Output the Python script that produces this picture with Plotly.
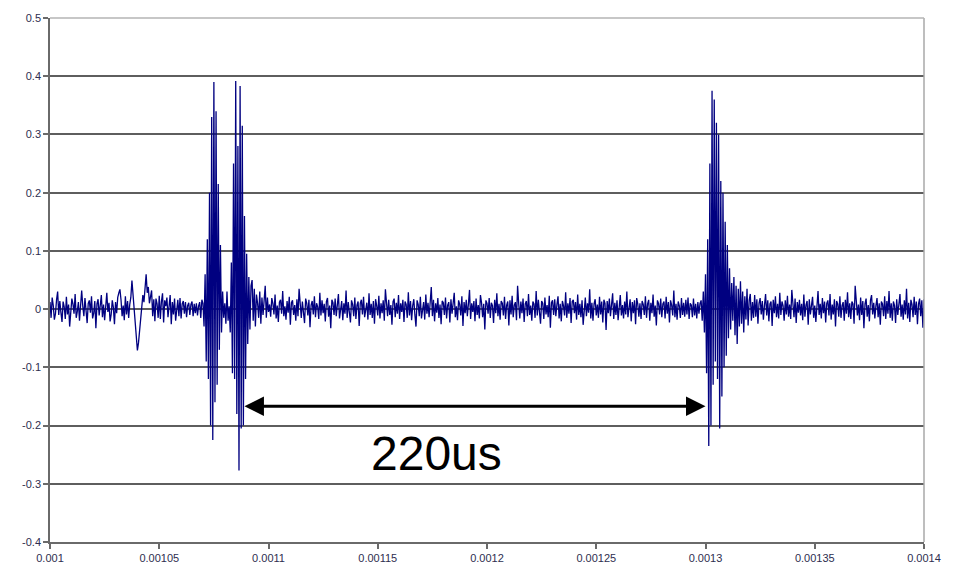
import plotly.graph_objects as go

# Sampled waveform, 0.5 us per sample, starting at t = 1.000 ms (values in mV)
t_start = 0.001
sample_step = 0.5e-6

lead_in_mv = [
    12, -15, 20, 6, -18, -8, 16, 30, -10, 14, -6, -22, 13, 4, -17, 21, -9, 8, -30, -12,
    18, 9, -8, 26, -15, -4, 12, -20, 7, 32, 5, -12, 19, -9, -24, 10, 15, -6, 22, -16,
    -7, 14, -33, 9, 17, -11, 5, 24, -14, 8, -19, 12, 28, -5, 11, -21, -9, 15, 3, -26,
    12, -7, 20, 28, 34, 16, -12, 6, -19, 22, -9, 14, -15, 8, 20, 49, 25, -8, -28, -45,
    -71, -58, -36, -18, 8, 24, 12, 36, 60, 28, 38, 10, 20, 32, -12, 17, -21, 18, 9, -15,
    23, -17, 13, 27, -23, 15, 5, 20, -14, 10, 24, -26, 12, -9, 18, -20, 7, 16, -12, 19,
    -16, 9, 14, -8, 12, -14, 6, 11, -10, 8, 13, -12, 9, -7, 10, -11, 5, 12, -15, 16,
]

burst_1_mv = [
    10, -30, 60, -90, 120, -120, 200, -200, 330, -225,
    390, -160, 340, -130, 215, -70, 110, -40, 30, -15,
]

gap_mv = [10, -25, 30, -20, 5]

burst_2_mv = [
    -40, 80, -110, 250, -120, 392, -180, 280, -277, 383,
    -205, 315, -200, 160, -120, 95, -60, 55, -35, 40,
]

ring_2_mv = [50, -20, 35, -30, 25, 10, -15, 30, -25, 20, -10, 15, 40, -15, 20, -5]

middle_mv = [
    8, -13, 19, 10, -9, 25, -16, 6, -22, 12, 16, -8, 31, -12, 5, -18, 14, -6, 21, -27,
    11, 15, -10, 7, -20, 17, -12, 35, 9, -15, 13, -6, -24, 18, 10, -11, 16, -31, 7, 14,
    -9, 22, -14, 10, 4, -17, 28, -11, 15, -7, 9, -21, 13, 19, -13, 6, -33, 16, 11, -10,
    18, -12, 8, 26, -16, 6, 14, -19, 10, -8, 32, -15, 12, -5, -23, 15, 8, -12, 20, -17,
    7, 13, -29, 10, 16, -9, 21, -14, 5, 11, -18, 27, -10, 9, -15, 14, -25, 17, 6, -11,
    23, -16, 10, -7, 15, -20, 34, 8, -12, 16, -10, 7, -27, 13, 18, -14, 11, -8, 24, -17,
    10, -5, 16, -22, 13, 8, -15, 29, -11, 14, -19, 6, 17, -10, -30, 15, 8, -12, 21, -16,
    5, 12, -18, 25, -8, 11, -14, 7, 38, -12, 16, -21, 10, -6, 19, -15, 8, -26, 14, 11,
    -10, 20, -16, 7, 12, -23, 17, -8, 10, 28, -14, 5, -19, 15, 8, -11, 22, -29, 12, -7,
    16, -12, 9, 33, -17, 10, -5, 14, -21, 18, -10, 7, -16, 24, 11, -14, 9, -35, 15, 10,
    -8, 19, -15, 11, 6, -24, 16, -7, 27, -12, 9, -18, 14, 10, -11, 21, -17, 7, 13, -28,
    15, -9, 23, -14, 7, 12, -19, 40, 10, -16, 13, -7, 18, -22, 9, 14, -12, 26, -10, 6,
    -20, 13, 9, -15, 31, -11, 16, -6, -25, 14, 10, -17, 20, -9, 7, -14, 23, -32, 11, 15,
    -10, 17, -12, 8, 22, -16, 9, -21, 14, 6, -11, 29, -15, 10, -8, 19, -24, 13, 16, -7,
    12, -18, 25, -10, 9, -14, 15, -27, 7, 20, -12, 10, -6, 34, -16, 11, -20, 9, 17, -11,
    8, -15, 21, -9, 13, -23, 16, 10, -36, 14, -7, 18, -12, 9, 27, -17, 11, -10, 15, -19,
    10, 24, -11, 7, -16, 13, -9, 30, -14, 6, 17, -21, 12, -7, 15, -26, 19, 9, -13, 10,
    -17, 14, 8, -10, 22, -15, 9, 16, -20, 11, -7, 25, -13, 6, -28, 15, 10, -9, 18, -14,
    9, 13, -16, 21, -8, 12, -23, 15, 7, -11, 32, -14, 9, -18, 13, 6, -15, 19, -10, 11,
    -13, 16, -9, 20, -17, 10, 7, -14, 18, -11, 9, -16, 12, -8, 10,
]

burst_3_mv = [
    15, -20, 30, -40, 60, -110, 120, -235, 250, -200,
    375, -130, 360, -90, 320, -120, 300, -205, 220, -150,
    200, -100, 150, -80, 110, -50, 70, -35, 45, -20,
]

tail_mv = [
    55, -45, 40, -60, 35, -30, 48, -25, 30, -40, 22, -18, 35, -28, 15, 26, -20, 12, -15, 24,
    -13, 17, -25, 10, 19, -9, 14, -18, 7, 26, -11, 15, -21, 9, 13, -29, 16, -7, 22, -14,
    9, -16, 28, -10, 13, 6, -20, 15, -9, 23, -13, 8, -17, 33, 10, -14, 18, -24, 12, -6,
    16, -11, 9, -19, 25, -13, 7, 14, -27, 17, -9, 11, 21, -15, 6, -22, 13, 31, -10, 9,
    -16, 19, -7, 13, -23, 10, 15, -11, 26, -18, 8, -9, 17, -30, 14, 9, -13, 22, -15, 6,
    12, -20, 16, -8, 29, -14, 10, -17, 13, 9, -25, 40, 15, -11, 8, -19, 20, -10, 14, -33,
    9, 18, -13, 7, -21, 15, 24, -9, 11, -16, 6, 19, -14, 10, -27, 13, 9, -12, 22, -17,
    14, -8, 31, -15, 10, -20, 13, 6, -24, 17, -10, 9, 26, -13, 8, -18, 15, -9, 35, -16,
    11, -22, 16, 8, -14, 21, -10, 13, -26, 9, 18, -12, 15, -32, 17,
]

x_tick_vals = [0.001, 0.00105, 0.0011, 0.00115, 0.0012, 0.00125, 0.0013, 0.00135, 0.0014]
x_tick_text = ["0.001", "0.00105", "0.0011", "0.00115", "0.0012", "0.00125", "0.0013", "0.00135", "0.0014"]
y_tick_vals = [0.5, 0.4, 0.3, 0.2, 0.1, 0.0, -0.1, -0.2, -0.3, -0.4]
y_tick_text = ["0.5", "0.4", "0.3", "0.2", "0.1", "0", "-0.1", "-0.2", "-0.3", "-0.4"]

# Echo spacing marker (seconds) and its label
gap_start = 0.0010883
gap_end = 0.0013
gap_level = -0.167
gap_label = "220us"

signal_mv = (lead_in_mv + burst_1_mv + gap_mv + burst_2_mv + ring_2_mv
             + middle_mv + burst_3_mv + tail_mv)
assert len(signal_mv) == 801, len(signal_mv)

times = [t_start + i * sample_step for i in range(len(signal_mv))]
volts = [v / 1000.0 for v in signal_mv]

fig = go.Figure()
fig.add_trace(go.Scatter(
    x=times, y=volts, mode="lines",
    line=dict(color="#000080", width=1.3),
    hoverinfo="skip", showlegend=False,
))

# Double-headed arrow between the two echoes
fig.add_annotation(
    x=gap_end, y=gap_level, ax=gap_start, ay=gap_level,
    xref="x", yref="y", axref="x", ayref="y",
    showarrow=True, arrowhead=2, startarrowhead=2, arrowside="end+start",
    arrowsize=1.3, arrowwidth=3, arrowcolor="black", text="",
)
fig.add_annotation(
    x=0.0011767, y=-0.248, xref="x", yref="y",
    text=gap_label, showarrow=False,
    font=dict(family="Liberation Sans, Arial, sans-serif", size=48, color="black"),
    xanchor="center", yanchor="middle",
)

# Plot area frame: light top and right edges
fig.add_shape(type="line", xref="paper", yref="paper", x0=1, x1=1, y0=0, y1=1,
              line=dict(color="#a8a8a8", width=1.5), layer="above")
fig.add_shape(type="line", xref="paper", yref="paper", x0=0, x1=1, y0=1, y1=1,
              line=dict(color="#b4b4b4", width=1.5), layer="above")

tick_font = dict(family="Liberation Sans, Arial, sans-serif", size=11, color="#2e2e50")

fig.update_layout(
    width=953, height=576,
    margin=dict(l=50, r=20, t=15, b=28),
    paper_bgcolor="white", plot_bgcolor="white",
    xaxis=dict(
        range=[0.001, 0.0014], tickvals=x_tick_vals, ticktext=x_tick_text,
        showgrid=False, zeroline=False,
        showline=True, linecolor="#6a6a6a", linewidth=1.5,
        ticks="outside", ticklen=5, tickcolor="#6a6a6a", tickwidth=1.5,
        tickfont=tick_font,
    ),
    yaxis=dict(
        range=[-0.4, 0.5], tickvals=y_tick_vals, ticktext=y_tick_text,
        showgrid=True, gridcolor="#5e5e5e", gridwidth=1.5, zeroline=False,
        showline=True, linecolor="#6a6a6a", linewidth=1.5,
        ticks="outside", ticklen=5, tickcolor="#6a6a6a", tickwidth=1.5,
        tickfont=tick_font,
    ),
)

fig.write_html("out.html")
